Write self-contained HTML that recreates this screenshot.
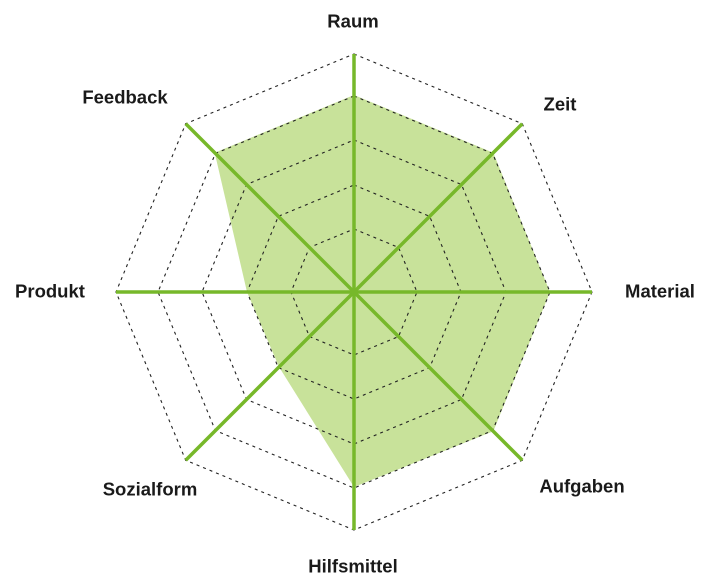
<!DOCTYPE html>
<html><head><style>body{margin:0;background:#fff}svg{display:block}text{font-family:"Liberation Sans",sans-serif;font-weight:bold;font-size:18.5px;fill:#1a1a1a;text-anchor:middle;dominant-baseline:central}</style></head>
<body>
<svg width="724" height="579" viewBox="0 0 724 579" id="s"></svg>
<script>
const cx=354,cy=292,s=document.getElementById('s');
let h='';
const ang=k=>(-90+45*k)*Math.PI/180;
const pt=(k,r)=>[cx+r*Math.cos(ang(k)),cy+r*Math.sin(ang(k))];
const data=[197,197,196,197,195,106,107,197];
h+='<polygon points="'+data.map((r,k)=>pt(k,r).join(',')).join(' ')+'" fill="#c8e29a"/>';
[63,107,152,196,238].forEach(r=>{h+='<polygon points="'+[0,1,2,3,4,5,6,7].map(k=>pt(k,r).join(',')).join(' ')+'" fill="none" stroke="#222" stroke-width="1.1" stroke-dasharray="3,4"/>';});
for(let k=0;k<8;k++){const p=pt(k,238);h+=`<line x1="${cx}" y1="${cy}" x2="${p[0]}" y2="${p[1]}" stroke="#77b82a" stroke-width="3.5"/>`;}
const L=[["Raum",353,21],["Zeit",560,104],["Material",660,291],["Aufgaben",582,486],["Hilfsmittel",353,566],["Sozialform",150,489],["Produkt",50,291],["Feedback",125,97]];
L.forEach(l=>h+=`<text x="${l[1]}" y="${l[2]}">${l[0]}</text>`);
s.innerHTML=h;
</script>
</body></html>
